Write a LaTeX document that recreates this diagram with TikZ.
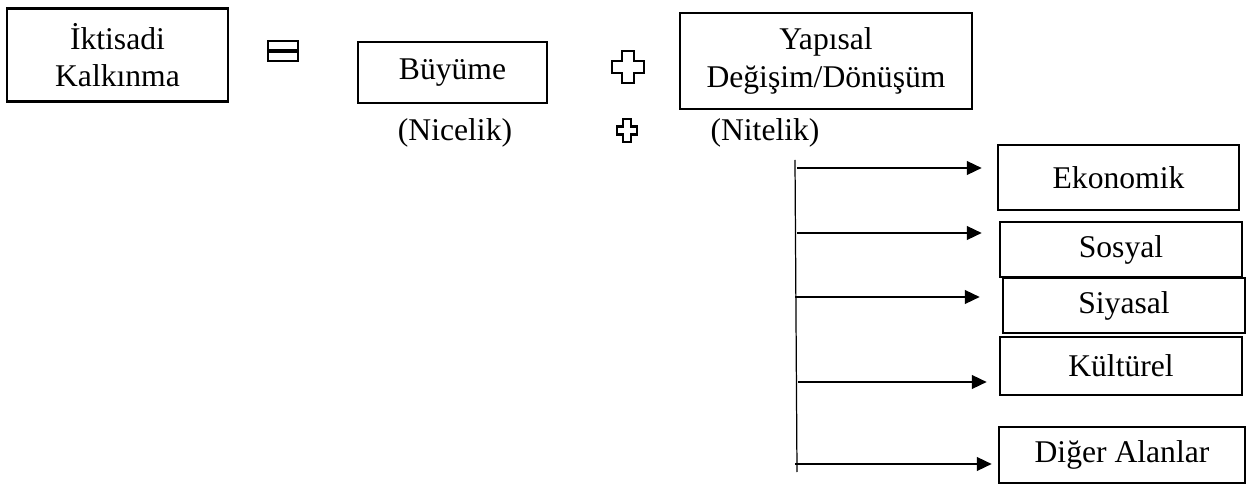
\documentclass[tikz,border=0pt]{standalone}
\usepackage{fontspec}
\setmainfont{Liberation Serif}
\usetikzlibrary{arrows.meta,positioning}

\begin{document}
\begin{tikzpicture}[x=0.02cm, y=-0.02cm, font=\fontsize{18}{21.5}\selectfont,
    box/.style={draw, line width=1.4pt, rectangle, inner sep=0pt, align=center},
    arrow/.style={line width=1.5pt, -{Triangle[length=0.3cm, width=0.27cm]}},
    sign/.style={line width=1.3pt}]
    \useasboundingbox (0,0) rectangle (1248,486);

    \node (iktisadi) [box, minimum width=4.42cm, minimum height=1.86cm] at (117.5,55) {İktisadi\\Kalkınma};
    \node (buyume) [box, minimum width=3.78cm, minimum height=1.22cm] at (452.5,72.5) {Büyüme};
    \node (yapisal) [box, minimum width=5.84cm, minimum height=1.92cm] at (826,61) {Yapısal\\Değişim/Dönüşüm};
    \node (nicelik) at (455,133) {(Nicelik)};
    \node (nitelik) at (765,133) {(Nitelik)};

    % equal and plus signs
    \draw[sign] (268,41) rectangle (298,50);
    \draw[sign] (268,52) rectangle (298,61);
    \draw[sign] (622,51) -- (634,51) -- (634,61) -- (644,61) -- (644,73) -- (634,73) -- (634,83)
        -- (622,83) -- (622,73) -- (612,73) -- (612,61) -- (622,61) -- cycle;
    \draw[sign] (623,119) -- (631,119) -- (631,126.5) -- (637,126.5) -- (637,134.5) -- (631,134.5)
        -- (631,142) -- (623,142) -- (623,134.5) -- (617,134.5) -- (617,126.5) -- (623,126.5) -- cycle;

    \node (ekonomik) [box, minimum width=4.82cm, minimum height=1.3cm] at (1118.5,177.5) {Ekonomik};
    \node (sosyal) [box, minimum width=4.84cm, minimum height=1.1cm] at (1121,249.5) {Sosyal};
    \node (siyasal) [box, minimum width=4.84cm, minimum height=1.1cm] at (1124,305.5) {Siyasal};
    \node (kulturel) [box, minimum width=4.84cm, minimum height=1.16cm] at (1121,366) {Kültürel};
    \node (diger) [box, minimum width=4.92cm, minimum height=1.12cm] at (1122,455) {Diğer Alanlar};

    \coordinate (spinetop) at (795,160);
    \coordinate (spinebot) at (797,472);
    \draw[line width=0.7pt] (spinetop) -- (spinebot);

    \foreach \name/\x/\y/\gap in {ekonomik/797/168/0.30cm, sosyal/797/233/0.34cm, siyasal/795/297/0.44cm,
        kulturel/798/382/0.24cm, diger/795/464/0.12cm} {
        \coordinate (from\name) at (\x,\y);
        \draw[arrow, shorten >=\gap] (from\name) -- (from\name -| \name.west);
    }
\end{tikzpicture}
\end{document}
